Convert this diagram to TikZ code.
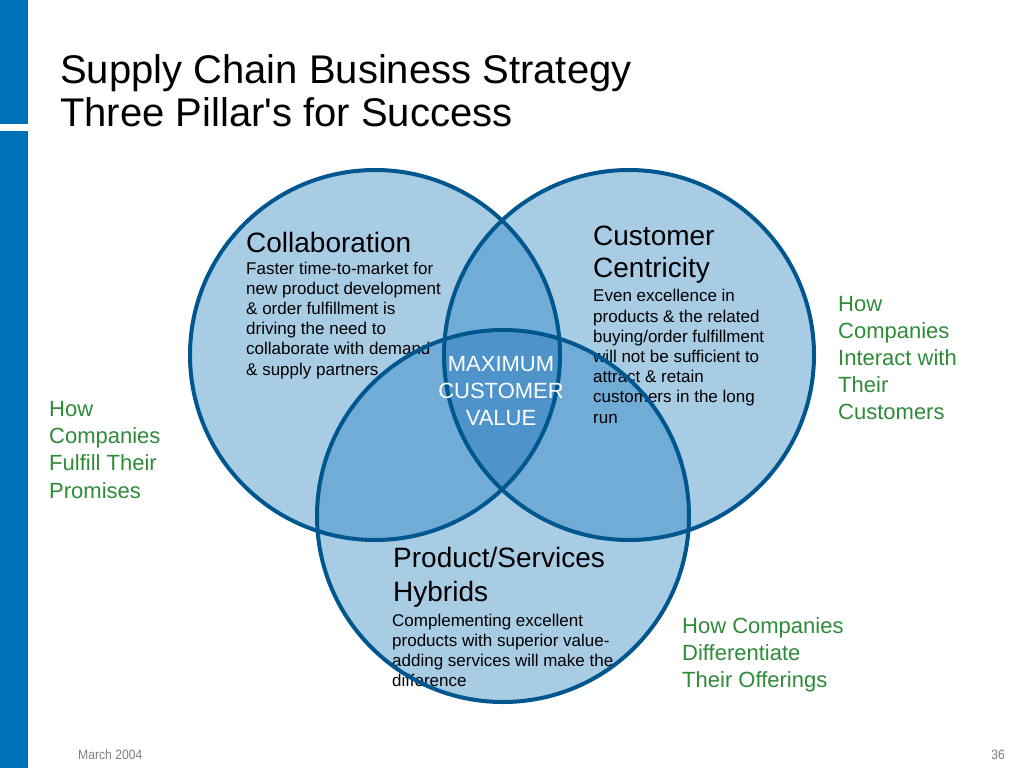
\documentclass[tikz,border=0pt]{standalone}
\usepackage{fontspec}
\setmainfont{Liberation Sans}
\newfontfamily\titlefont{Liberation Sans}
\newfontfamily\narrowfont[FakeStretch=0.9]{Liberation Sans}
\definecolor{barblue}{RGB}{0,112,184}
\definecolor{lightfill}{RGB}{168,204,228}
\definecolor{midfill}{RGB}{112,172,213}
\definecolor{darkfill}{RGB}{78,148,202}
\definecolor{ringblue}{RGB}{0,86,142}
\definecolor{labgreen}{RGB}{46,139,56}
\definecolor{footgray}{RGB}{128,128,128}
\tikzset{
  ring/.style={draw=ringblue, line width=4pt},
  headtxt/.style={anchor=base west, inner sep=0pt, align=left, font=\fontsize{28}{33}\selectfont},
  bodytxt/.style={anchor=base west, inner sep=0pt, align=left, font=\fontsize{17}{20.1}\selectfont},
  greentxt/.style={anchor=base west, inner sep=0pt, align=left, text=labgreen, font=\fontsize{22}{27.3}\selectfont},
  foottxt/.style={inner sep=0pt, text=footgray, font=\narrowfont\fontsize{13.5}{15}\selectfont}
}
\begin{document}
\begin{tikzpicture}[x=1pt,y=-1pt]
\useasboundingbox (0,0) rectangle (1024,768);
\fill[white] (0,0) rectangle (1024,768);
% left bar
\fill[barblue] (0,0) rectangle (28,124);
\fill[barblue] (0,131) rectangle (28,768);
% title (base anchor = last line)
\node[anchor=base west, inner sep=0pt, align=left, font=\titlefont\fontsize{40}{43}\selectfont] (title) at (60,126) {Supply Chain Business Strategy\\Three Pillar's for Success};
% circles
\coordinate (cL) at (375,355);
\coordinate (cR) at (629,355);
\coordinate (cB) at (503,516);
\fill[lightfill] (cL) circle[radius=185pt];
\fill[lightfill] (cR) circle[radius=185pt];
\fill[lightfill] (cB) circle[radius=186pt];
\begin{scope}
  \clip (cL) circle[radius=185pt];
  \fill[midfill] (cR) circle[radius=185pt];
  \fill[midfill] (cB) circle[radius=186pt];
\end{scope}
\begin{scope}
  \clip (cR) circle[radius=185pt];
  \fill[midfill] (cB) circle[radius=186pt];
\end{scope}
\begin{scope}
  \clip (cL) circle[radius=185pt];
  \clip (cR) circle[radius=185pt];
  \fill[darkfill] (cB) circle[radius=186pt];
\end{scope}
% circle texts (base anchor = last line baseline)
\node[headtxt] (collabHead) at (246,252) {Collaboration};
\node[bodytxt] (collabBody) at (246,375) {Faster time-to-market for\\new product development\\\& order fulfillment is\\driving the need to\\collaborate with demand\\\& supply partners};
\node[headtxt, font=\fontsize{28}{32}\selectfont] (custHead) at (593,277) {Customer\\Centricity};
\node[bodytxt, font=\fontsize{17}{20.2}\selectfont] (custBody) at (593,423) {Even excellence in\\products \& the related\\buying/order fulfillment\\will not be sufficient to\\attract \& retain\\customers in the long\\run};
\node[headtxt, font=\fontsize{28}{34}\selectfont] (prodHead) at (393,601) {Product/Services\\Hybrids};
\node[bodytxt, font=\fontsize{17}{19.8}\selectfont] (prodBody) at (392,686) {Complementing excellent\\products with superior value-\\adding services will make the\\difference};
% rings
\draw[ring] (cL) circle[radius=185pt];
\draw[ring] (cR) circle[radius=185pt];
\draw[ring] (cB) circle[radius=186pt];
% center
\node[anchor=base, inner sep=0pt, align=center, text=white, font=\fontsize{22}{27}\selectfont] (maxval) at (501,425) {MAXIMUM\\CUSTOMER\\VALUE};
% green labels
\node[greentxt] (fulfill) at (49,498) {How\\Companies\\Fulfill Their\\Promises};
\node[greentxt, font=\fontsize{22}{26.8}\selectfont] (interact) at (838,419) {How\\Companies\\Interact with\\Their\\Customers};
\node[greentxt, font=\fontsize{22}{27}\selectfont] (differ) at (682,687) {How Companies\\Differentiate\\Their Offerings};
% footer
\node[foottxt, anchor=base west] (date) at (78,759) {March 2004};
\node[foottxt, anchor=base east] (page) at (1005,759) {36};
\end{tikzpicture}
\end{document}
